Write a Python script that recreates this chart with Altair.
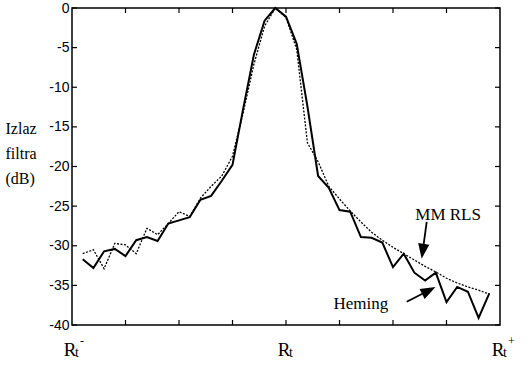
import altair as alt
import pandas as pd

# ---- data ----
x_vals = [0.2, 0.4, 0.6, 0.8, 1.0, 1.2, 1.4, 1.6, 1.8, 2.0,
          2.2, 2.4, 2.6, 2.8, 3.0, 3.2, 3.4, 3.6, 3.8, 4.0,
          4.2, 4.4, 4.6, 4.8, 5.0, 5.2, 5.4, 5.6, 5.8, 6.0,
          6.2, 6.4, 6.6, 6.8, 7.0, 7.2, 7.4, 7.6, 7.8]
heming = [-31.7, -32.8, -30.7, -30.4, -31.3, -29.3, -28.9, -29.4, -27.2, -26.8,
          -26.4, -24.2, -23.7, -21.8, -19.8, -12.7, -5.9, -1.6, 0.0, -1.1,
          -4.5, -12.4, -21.2, -22.7, -25.5, -25.7, -28.9, -29.0, -29.6, -32.7,
          -31.0, -33.4, -34.4, -33.4, -37.1, -35.2, -35.8, -39.1, -36.0]
mmrls = [-31.0, -30.5, -32.9, -29.7, -29.9, -31.0, -27.8, -28.6, -27.2, -25.7,
         -26.3, -24.0, -22.5, -21.2, -18.7, -13.2, -7.1, -2.3, 0.0, -1.2,
         -5.2, -17.0, -19.4, -22.5, -24.1, -25.6, -27.0, -28.3, -29.3, -30.2,
         -31.0, -31.8, -32.6, -33.3, -34.1, -34.7, -35.2, -35.6, -36.1]

y_ticks = [0, -5, -10, -15, -20, -25, -30, -35, -40]
x_ticks = [0, 1, 2, 3, 4, 5, 6, 7, 8]
x_label_pos = [0, 4, 8]
x_label_main = ["R", "R", "R"]
x_label_sub = ["t", "t", "t"]
x_label_sup = ["-", "", "+"]

ann_labels = ["MM RLS", "Heming"]
ann_x = [7.03, 5.40]
ann_y = [-26.1, -37.3]

arrow_x = [6.63, 6.256]
arrow_y = [-27.0, -37.06]
arrow_x2 = [6.555, 6.669]
arrow_y2 = [-30.7, -35.65]
arrow_angle = [188, 63]

# ---- chart ----
W, H = 428, 317
xs = alt.Scale(domain=[0, 8], nice=False, zero=False)
ys = alt.Scale(domain=[-40, 0], nice=False, zero=False)

df = pd.DataFrame({"x": x_vals, "heming": heming, "mmrls": mmrls})

yaxis = alt.Axis(values=y_ticks, labelExpr="'' + datum.value", ticks=False, domain=False,
                 grid=False, labelFont="Liberation Sans", labelFontSize=14,
                 labelColor="black", labelPadding=3,
                 title=["Izlaz", "filtra", "(dB)"], titleAngle=0, titleAlign="left",
                 titleBaseline="top", titleX=-67, titleY=112, titleLineHeight=25,
                 titleFont="Liberation Serif", titleFontSize=16, titleFontWeight="normal",
                 titleColor="black")

solid = alt.Chart(df).mark_line(color="black", strokeWidth=2).encode(
    x=alt.X("x:Q", scale=xs, axis=None),
    y=alt.Y("heming:Q", scale=ys, axis=yaxis))
dotted = alt.Chart(df).mark_line(color="black", strokeWidth=1.3, strokeDash=[2, 1.5]).encode(
    x=alt.X("x:Q", scale=xs, axis=None),
    y=alt.Y("mmrls:Q", scale=ys, axis=None))

ty = pd.DataFrame({"v": y_ticks})
tx = pd.DataFrame({"v": x_ticks[1:-1]})
left_ticks = alt.Chart(ty).mark_rule(color="black", strokeWidth=1.2).encode(
    y=alt.Y("v:Q", scale=ys, axis=None), x=alt.value(0), x2=alt.value(5))
right_ticks = alt.Chart(ty).mark_rule(color="black", strokeWidth=1.2).encode(
    y=alt.Y("v:Q", scale=ys, axis=None), x=alt.value(W), x2=alt.value(W - 5))
bottom_ticks = alt.Chart(tx).mark_rule(color="black", strokeWidth=1.2).encode(
    x=alt.X("v:Q", scale=xs, axis=None), y=alt.value(H), y2=alt.value(H - 5))
top_ticks = alt.Chart(tx).mark_rule(color="black", strokeWidth=1.2).encode(
    x=alt.X("v:Q", scale=xs, axis=None), y=alt.value(0), y2=alt.value(5))

adf = pd.DataFrame({"x": arrow_x, "y": arrow_y, "x2": arrow_x2, "y2": arrow_y2, "ang": arrow_angle})
shafts = alt.Chart(adf).mark_rule(color="black", strokeWidth=1.8).encode(
    x=alt.X("x:Q", scale=xs, axis=None), y=alt.Y("y:Q", scale=ys, axis=None),
    x2="x2:Q", y2="y2:Q")
heads = alt.Chart(adf).mark_point(shape="M0,-1L0.75,1L-0.75,1Z", filled=True, color="black",
                                  size=225, opacity=1).encode(
    x=alt.X("x2:Q", scale=xs, axis=None), y=alt.Y("y2:Q", scale=ys, axis=None),
    angle=alt.Angle("ang:Q", scale=None))

ann = pd.DataFrame({"label": ann_labels, "x": ann_x, "y": ann_y})
texts = alt.Chart(ann).mark_text(font="Liberation Serif", fontSize=17, color="black",
                                 align="center", baseline="middle").encode(
    x=alt.X("x:Q", scale=xs, axis=None), y=alt.Y("y:Q", scale=ys, axis=None), text="label:N")

rl = pd.DataFrame({"x": x_label_pos, "main": x_label_main, "sub": x_label_sub, "sup": x_label_sup})
r_main = alt.Chart(rl).mark_text(font="Liberation Serif", fontSize=19, color="black",
                                 align="center", baseline="alphabetic", dx=-2).encode(
    x=alt.X("x:Q", scale=xs, axis=None), y=alt.value(348), text="main:N")
r_sub = alt.Chart(rl).mark_text(font="Liberation Serif", fontSize=14, color="black",
                                align="left", baseline="alphabetic", dx=3, dy=1).encode(
    x=alt.X("x:Q", scale=xs, axis=None), y=alt.value(348), text="sub:N")
r_sup = alt.Chart(rl).mark_text(font="Liberation Serif", fontSize=12, color="black",
                                align="left", baseline="alphabetic", dx=8, dy=-11).encode(
    x=alt.X("x:Q", scale=xs, axis=None), y=alt.value(348), text="sup:N")

chart = alt.layer(
    solid, dotted, left_ticks, right_ticks, bottom_ticks, top_ticks,
    shafts, heads, texts, r_main, r_sub, r_sup
).resolve_axis(
    x="independent", y="independent"
).properties(
    width=W, height=H,
    padding={"left": 72, "top": 8, "right": 30, "bottom": 43},
    autosize=alt.AutoSizeParams(type="none"),
    background="white",
).configure_view(stroke="black", strokeWidth=1.5)

chart.save("out.html", embed_options={"renderer": "svg", "actions": False})
